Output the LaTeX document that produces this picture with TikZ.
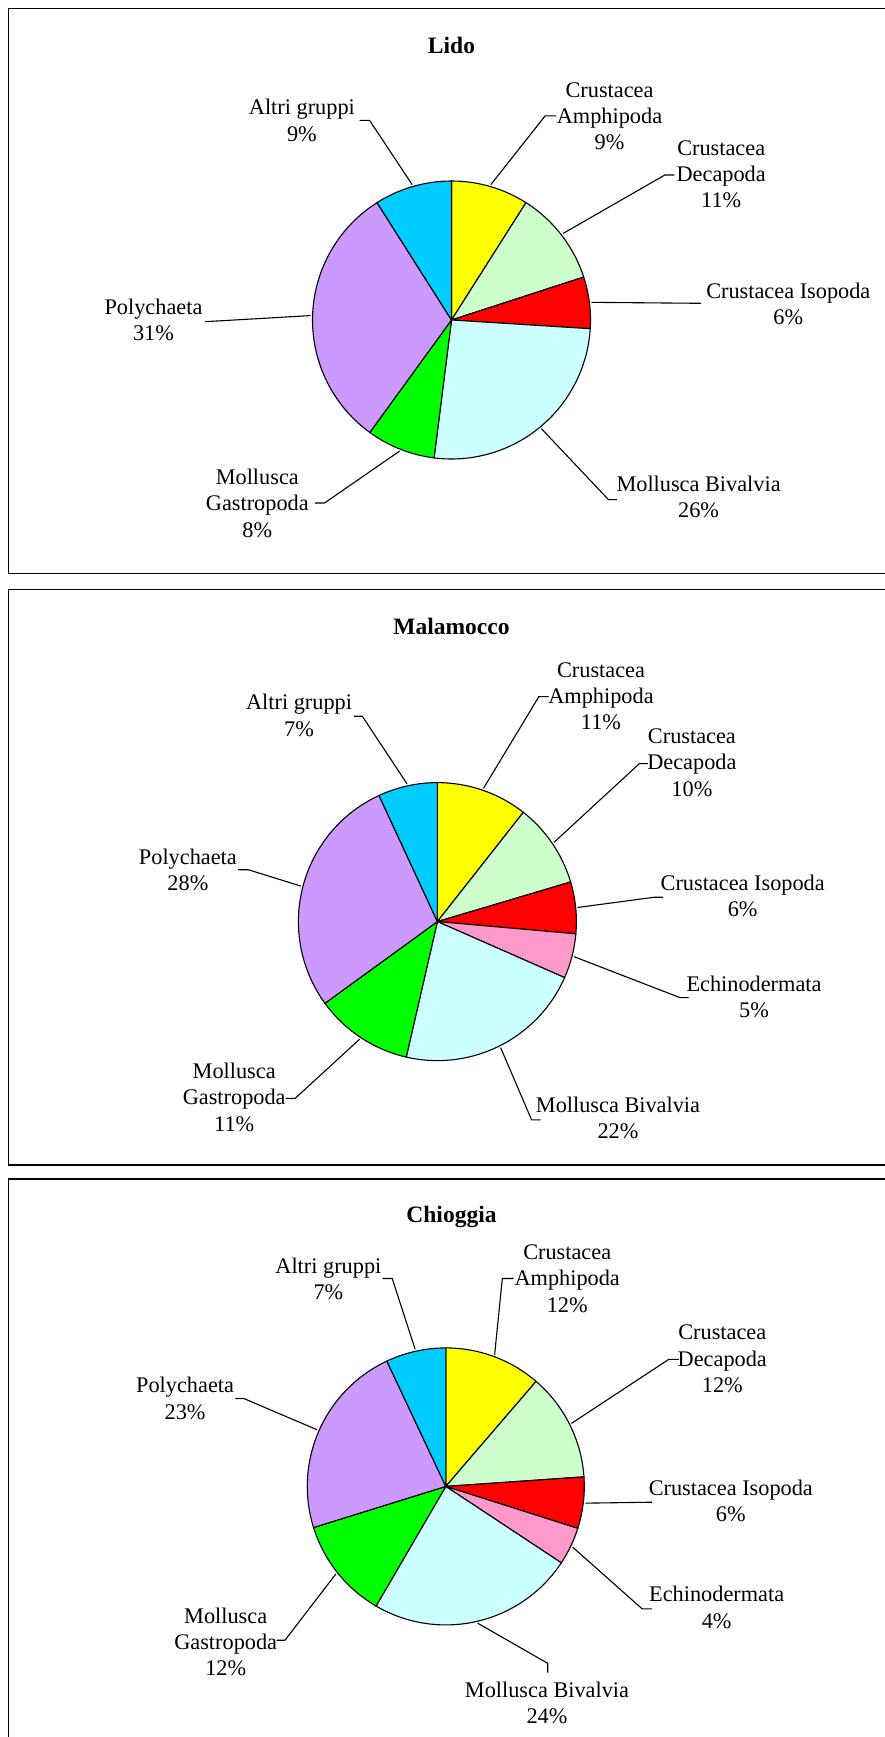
\documentclass[tikz,border=0pt]{standalone}
\usepackage{fontspec}
\setmainfont{Liberation Serif}
\usetikzlibrary{calc}
\definecolor{cyel}{HTML}{FFFF00}
\definecolor{clgr}{HTML}{CCFFCC}
\definecolor{cred}{HTML}{FF0000}
\definecolor{cpink}{HTML}{FF99CC}
\definecolor{clcy}{HTML}{CCFFFF}
\definecolor{cgrn}{HTML}{00FF00}
\definecolor{cpur}{HTML}{CC99FF}
\definecolor{cblu}{HTML}{00CCFF}
\newcommand{\slc}[6]{%
  \filldraw[slice,fill=#4] (#1) -- ($(#1)+({3.6*(#2)-90}:#5)$)
    arc[start angle={3.6*(#2)-90}, end angle={3.6*(#3)-90}, radius=#5] -- cycle;
  \coordinate (#6) at ($(#1)+({1.8*((#2)+(#3))-90}:{#5+2})$);
}
\begin{document}
\begin{tikzpicture}[x=1pt,y=-1pt,
  frame/.style={draw=black,line width=1.7pt},
  slice/.style={draw=black,line width=1.1pt},
  lead/.style={draw=black,line width=1.1pt},
  lbl/.style={font=\fontsize{22.3}{26.3}\selectfont,align=center,inner sep=0pt,anchor=base},
  ttl/.style={font=\fontsize{23.5}{27}\selectfont\bfseries,inner sep=0pt,anchor=base}]
\useasboundingbox (0,0) rectangle (885,1737);
\fill[white] (0,0) rectangle (885,1737);
% frames
\draw[frame] (8.5,8.5) rectangle (900,573.5);
\draw[frame] (8.5,589.5) rectangle (900,1165);
\draw[frame] (8.5,1179.3) rectangle (900,1760);

% ================= Lido =================
\node[ttl] (t1) at (451.5,53.9) {Lido};
\coordinate (c1) at (451.5,320);
\slc{c1}{0}{9}{cyel}{139}{p1a}
\slc{c1}{9}{20}{clgr}{139}{p1b}
\slc{c1}{20}{26}{cred}{139}{p1c}
\slc{c1}{26}{52}{clcy}{139}{p1d}
\slc{c1}{52}{60}{cgrn}{139}{p1e}
\slc{c1}{60}{91}{cpur}{139}{p1f}
\slc{c1}{91}{100}{cblu}{139}{p1g}
\node[lbl] (l1a) at (609.5,149.6) {Crustacea\\Amphipoda\\9\%};
\node[lbl] (l1b) at (721.2,207.6) {Crustacea\\Decapoda\\11\%};
\node[lbl] (l1c) at (788.3,324.6) {Crustacea Isopoda\\6\%};
\node[lbl] (l1d) at (698.6,517.3) {Mollusca Bivalvia\\26\%};
\node[lbl] (l1e) at (257.3,537.1) {Mollusca\\Gastropoda\\8\%};
\node[lbl] (l1f) at (153.5,340.6) {Polychaeta\\31\%};
\node[lbl] (l1g) at (301.9,141) {Altri gruppi\\9\%};
\coordinate (e1a) at (545.1,115.9); \coordinate (q1a) at (555.9,115.9);
\coordinate (e1b) at (664.8,175);   \coordinate (q1b) at (674.4,175);
\coordinate (q1c) at (701,303.3);
\coordinate (e1d) at (608.4,499.6); \coordinate (q1d) at (616.8,499.6);
\coordinate (e1e) at (324.5,503);   \coordinate (q1e) at (314.9,503);
\coordinate (q1f) at (205,321.7);
\coordinate (e1g) at (369.6,120.4); \coordinate (q1g) at (359.5,120.4);
\draw[lead] (p1a) -- (e1a) -- (q1a);
\draw[lead] (p1b) -- (e1b) -- (q1b);
\draw[lead] (p1c) -- (q1c);
\draw[lead] (p1d) -- (e1d) -- (q1d);
\draw[lead] (p1e) -- (e1e) -- (q1e);
\draw[lead] (p1f) -- (q1f);
\draw[lead] (p1g) -- (e1g) -- (q1g);

% ================= Malamocco =================
\node[ttl] (t2) at (451.5,634.6) {Malamocco};
\coordinate (c2) at (437.4,921.6);
\slc{c2}{0}{10.6}{cyel}{139}{p2a}
\slc{c2}{10.6}{20.4}{clgr}{139}{p2b}
\slc{c2}{20.4}{26.4}{cred}{139}{p2c}
\slc{c2}{26.4}{31.6}{cpink}{139}{p2d}
\slc{c2}{31.6}{53.6}{clcy}{139}{p2e}
\slc{c2}{53.6}{65}{cgrn}{139}{p2f}
\slc{c2}{65}{93.1}{cpur}{139}{p2g}
\slc{c2}{93.1}{100}{cblu}{139}{p2h}
\node[lbl] (l2a) at (601,729.6) {Crustacea\\Amphipoda\\11\%};
\node[lbl] (l2b) at (691.9,796.2) {Crustacea\\Decapoda\\10\%};
\node[lbl] (l2c) at (742.7,916.7) {Crustacea Isopoda\\6\%};
\node[lbl] (l2d) at (754,1017.5) {Echinodermata\\5\%};
\node[lbl] (l2e) at (618,1138.6) {Mollusca Bivalvia\\22\%};
\node[lbl] (l2f) at (234.2,1131.1) {Mollusca\\Gastropoda\\11\%};
\node[lbl] (l2g) at (187.9,890.3) {Polychaeta\\28\%};
\node[lbl] (l2h) at (299.1,736.1) {Altri gruppi\\7\%};
\coordinate (e2a) at (538.9,696.6);  \coordinate (q2a) at (548.5,696.6);
\coordinate (e2b) at (639.4,763.6);  \coordinate (q2b) at (647.9,763.6);
\coordinate (e2c) at (654.6,897.2);  \coordinate (q2c) at (663.1,897.2);
\coordinate (e2d) at (680,997.6);    \coordinate (q2d) at (688.5,997.6);
\coordinate (e2e) at (531.6,1119.9); \coordinate (q2e) at (540.6,1119.9);
\coordinate (e2f) at (295.1,1098.4); \coordinate (q2f) at (285.6,1098.4);
\coordinate (e2g) at (248.3,869.7);  \coordinate (q2g) at (238.1,869.7);
\coordinate (e2h) at (362.3,716.2);  \coordinate (q2h) at (353.8,716.2);
\draw[lead] (p2a) -- (e2a) -- (q2a);
\draw[lead] (p2b) -- (e2b) -- (q2b);
\draw[lead] (p2c) -- (e2c) -- (q2c);
\draw[lead] (p2d) -- (e2d) -- (q2d);
\draw[lead] (p2e) -- (e2e) -- (q2e);
\draw[lead] (p2f) -- (e2f) -- (q2f);
\draw[lead] (p2g) -- (e2g) -- (q2g);
\draw[lead] (p2h) -- (e2h) -- (q2h);

% ================= Chioggia =================
\node[ttl] (t3) at (451.5,1222.5) {Chioggia};
\coordinate (c3) at (445.8,1486.4);
\slc{c3}{0}{11.3}{cyel}{138.5}{p3a}
\slc{c3}{11.3}{23.9}{clgr}{138.5}{p3b}
\slc{c3}{23.9}{29.9}{cred}{138.5}{p3c}
\slc{c3}{29.9}{34.3}{cpink}{138.5}{p3d}
\slc{c3}{34.3}{58.4}{clcy}{138.5}{p3e}
\slc{c3}{58.4}{70.2}{cgrn}{138.5}{p3f}
\slc{c3}{70.2}{93}{cpur}{138.5}{p3g}
\slc{c3}{93}{100}{cblu}{138.5}{p3h}
\node[lbl] (l3a) at (567.2,1312.1) {Crustacea\\Amphipoda\\12\%};
\node[lbl] (l3b) at (722.3,1392.3) {Crustacea\\Decapoda\\12\%};
\node[lbl] (l3c) at (730.8,1521.3) {Crustacea Isopoda\\6\%};
\node[lbl] (l3d) at (716.7,1628) {Echinodermata\\4\%};
\node[lbl] (l3e) at (547,1723.6) {Mollusca Bivalvia\\24\%};
\node[lbl] (l3f) at (225.7,1675.7) {Mollusca\\Gastropoda\\12\%};
\node[lbl] (l3g) at (185.1,1419) {Polychaeta\\23\%};
\node[lbl] (l3h) at (328.4,1299.4) {Altri gruppi\\7\%};
\coordinate (e3a) at (502.3,1278.5); \coordinate (q3a) at (513.5,1278.5);
\coordinate (e3b) at (668.7,1359.4); \coordinate (q3b) at (678.9,1359.4);
\coordinate (q3c) at (651.8,1502.2);
\coordinate (e3d) at (642.2,1608.9); \coordinate (q3d) at (651.8,1608.9);
\coordinate (e3e) at (547.7,1663.3); \coordinate (q3e) at (547.7,1672.7);
\coordinate (e3f) at (285,1640.2);   \coordinate (q3f) at (276.5,1640.2);
\coordinate (e3g) at (243.8,1398.5); \coordinate (q3g) at (235.3,1398.5);
\coordinate (e3h) at (392.2,1278.5); \coordinate (q3h) at (382.6,1278.5);
\draw[lead] (p3a) -- (e3a) -- (q3a);
\draw[lead] (p3b) -- (e3b) -- (q3b);
\draw[lead] (p3c) -- (q3c);
\draw[lead] (p3d) -- (e3d) -- (q3d);
\draw[lead] (p3e) -- (e3e) -- (q3e);
\draw[lead] (p3f) -- (e3f) -- (q3f);
\draw[lead] (p3g) -- (e3g) -- (q3g);
\draw[lead] (p3h) -- (e3h) -- (q3h);
\end{tikzpicture}
\end{document}
